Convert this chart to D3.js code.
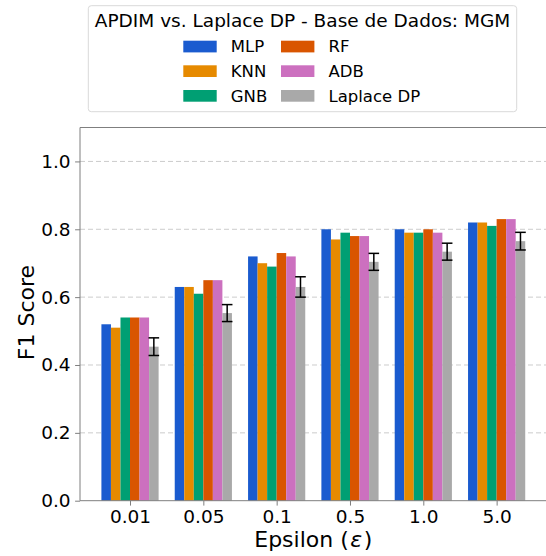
<!DOCTYPE html>
<html>
<head>
<meta charset="utf-8">
<script src="https://cdn.jsdelivr.net/npm/d3@7"></script>
<style>
  html, body { margin: 0; padding: 0; background: #fff; }
  svg { display: block; font-family: "DejaVu Sans", sans-serif; }
</style>
</head>
<body>
<svg id="chart" width="546" height="556"></svg>
<script>
// ---- data ----
const categories = ["0.01", "0.05", "0.1", "0.5", "1.0", "5.0"];
const seriesNames = ["MLP", "KNN", "GNB", "RF", "ADB", "Laplace DP"];
const mlp     = [0.52, 0.63, 0.72, 0.80, 0.80, 0.82];
const knn     = [0.51, 0.63, 0.70, 0.77, 0.79, 0.82];
const gnb     = [0.54, 0.61, 0.69, 0.79, 0.79, 0.81];
const rf      = [0.54, 0.65, 0.73, 0.78, 0.80, 0.83];
const adb     = [0.54, 0.65, 0.72, 0.78, 0.79, 0.83];
const laplace = [0.454, 0.553, 0.63, 0.704, 0.734, 0.765];
const laplaceErr = [0.026, 0.025, 0.030, 0.025, 0.025, 0.026];
const yTicks = [0.0, 0.2, 0.4, 0.6, 0.8, 1.0];
const colors = ["#1a5bcf", "#e68a00", "#009f73", "#d95500", "#cc70bf", "#a9a9a9"];
const title = "APDIM vs. Laplace DP - Base de Dados: MGM";
const xLabel = "Epsilon (";
const yLabel = "F1 Score";

const seriesValues = [mlp, knn, gnb, rf, adb, laplace];

// ---- layout ----
const svg = d3.select("#chart");
const pLeft = 80, pRight = 546.5, pTop = 127.5, pBottom = 500.7;
const barW = 0.13;

const x = d3.scaleLinear().domain([-0.682, 5.68]).range([pLeft, pRight]);
const y = d3.scaleLinear().domain([0, 1.1]).range([pBottom, pTop]);

// grid
svg.append("g").selectAll("line").data(yTicks.filter(d => d > 0)).join("line")
  .attr("x1", pLeft).attr("x2", pRight)
  .attr("y1", d => y(d)).attr("y2", d => y(d))
  .attr("stroke", "#cccccc").attr("stroke-width", 1)
  .attr("stroke-dasharray", "5,3");

// bars
const gBars = svg.append("g");
seriesValues.forEach((vals, si) => {
  gBars.append("g").selectAll("rect").data(vals).join("rect")
    .attr("x", (d, i) => x(i + (si - 2.5) * barW - barW / 2))
    .attr("width", x(barW) - x(0))
    .attr("y", d => y(d))
    .attr("height", d => y(0) - y(d))
    .attr("fill", colors[si]);
});

// error bars
const gErr = svg.append("g").attr("stroke", "#000").attr("stroke-width", 1.5);
laplace.forEach((v, i) => {
  const cx = x(i + 2.5 * barW);
  const e = laplaceErr[i];
  gErr.append("line").attr("x1", cx).attr("x2", cx).attr("y1", y(v - e)).attr("y2", y(v + e));
  [v - e, v + e].forEach(t => {
    gErr.append("line").attr("x1", cx - 5.3).attr("x2", cx + 5.3).attr("y1", y(t)).attr("y2", y(t));
  });
});

// spines
svg.append("line").attr("x1", pLeft).attr("x2", pLeft).attr("y1", pTop).attr("y2", pBottom)
  .attr("stroke", "#7f7f7f").attr("stroke-width", 1);
svg.append("line").attr("x1", pLeft).attr("x2", pRight).attr("y1", pTop).attr("y2", pTop)
  .attr("stroke", "#7f7f7f").attr("stroke-width", 1);
svg.append("line").attr("x1", pLeft).attr("x2", pRight).attr("y1", pBottom).attr("y2", pBottom)
  .attr("stroke", "#7f7f7f").attr("stroke-width", 1);

// y axis
const yAxis = d3.axisLeft(y).tickValues(yTicks).tickFormat(d3.format(".1f")).tickSize(4.9).tickPadding(4.5);
const gy = svg.append("g").attr("transform", `translate(${pLeft},0)`).call(yAxis);
gy.select(".domain").remove();
gy.selectAll(".tick line").attr("stroke", "#7f7f7f");
gy.selectAll(".tick text").attr("font-size", "18.5px").attr("fill", "#000").attr("font-family", "DejaVu Sans");

// x axis
const xAxis = d3.axisBottom(x).tickValues(d3.range(categories.length)).tickFormat(i => categories[i]).tickSize(4.9).tickPadding(4);
const gx = svg.append("g").attr("transform", `translate(0,${pBottom})`).call(xAxis);
gx.select(".domain").remove();
gx.selectAll(".tick line").attr("stroke", "#7f7f7f");
gx.selectAll(".tick text").attr("font-size", "18.5px").attr("fill", "#000").attr("font-family", "DejaVu Sans");

// axis labels
const xl = svg.append("text").attr("x", (pLeft + pRight) / 2).attr("y", 547.3)
  .attr("text-anchor", "middle").attr("font-size", "22px").attr("fill", "#000");
xl.append("tspan").text(xLabel);
xl.append("tspan").attr("font-style", "italic").attr("dx", 1.5).text("ε");
xl.append("tspan").attr("dx", 1.5).text(")");

svg.append("text").attr("transform", `translate(33.5,312.5) rotate(-90)`)
  .attr("text-anchor", "middle").attr("font-size", "22px").attr("fill", "#000").text(yLabel);

// legend
const lg = svg.append("g");
lg.append("rect").attr("x", 88.3).attr("y", 5.7).attr("width", 428.4).attr("height", 106)
  .attr("rx", 3).attr("fill", "#fff").attr("fill-opacity", 0.8).attr("stroke", "#d9d9d9").attr("stroke-width", 1);
lg.append("text").attr("x", 302.5).attr("y", 26.7).attr("text-anchor", "middle")
  .attr("font-size", "18.5px").attr("fill", "#000").text(title);
const colX = [183.3, 281];
const rowY = [40.7, 65.3, 90];
seriesNames.forEach((name, i) => {
  const c = Math.floor(i / 3), r = i % 3;
  lg.append("rect").attr("x", colX[c]).attr("y", rowY[r]).attr("width", 33.4).attr("height", 11.7).attr("fill", colors[i]);
  lg.append("text").attr("x", colX[c] + 47.5).attr("y", rowY[r] + 11.7).attr("font-size", "16.5px").attr("fill", "#000").text(name);
});
</script>
</body>
</html>
